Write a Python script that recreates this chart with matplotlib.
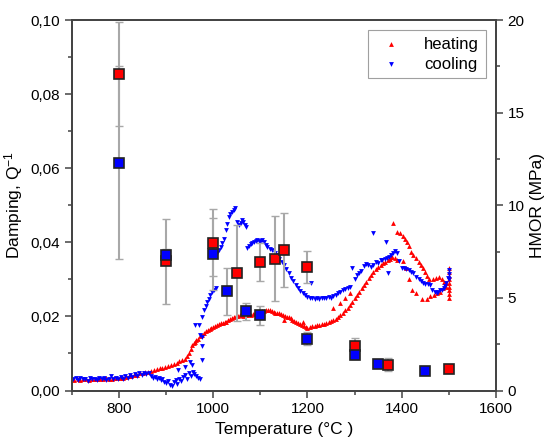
import matplotlib
matplotlib.use('Agg')
import matplotlib.pyplot as plt
from matplotlib.ticker import MultipleLocator, FuncFormatter

plt.rcParams['font.family'] = ['Liberation Sans', 'DejaVu Sans']
plt.rcParams['mathtext.default'] = 'regular'

# damping on heating (temperature, Q^-1)
heat_T = [705, 712, 718, 724, 730, 736, 742, 748, 754, 760, 766, 772, 778, 784, 790, 796,
          802, 808, 814, 820, 826, 832, 838, 844, 850, 856, 862, 868, 874, 880, 886, 892, 898,
          904, 910, 916, 922, 928, 934, 940, 944, 948, 952, 955, 958, 961, 964, 968, 972, 976,
          980, 984, 988, 992, 996,
          1000, 1004, 1008, 1012, 1016, 1020, 1024, 1028, 1032, 1036, 1040, 1044, 1048, 1052,
          1056, 1060, 1064, 1068, 1072, 1076, 1080, 1084, 1088, 1092, 1096, 1100, 1104, 1108,
          1112, 1116, 1120, 1124, 1128, 1132, 1136, 1140, 1144, 1148, 1152, 1156, 1160, 1164,
          1168, 1172, 1176, 1180, 1184, 1188, 1192, 1196, 1200, 1150, 1190,
          1205, 1210, 1215, 1220, 1225, 1230, 1235, 1240, 1245, 1250, 1255, 1260, 1265, 1270,
          1275, 1280, 1285, 1290, 1295, 1300, 1305, 1310, 1315, 1320, 1325, 1330, 1335, 1340,
          1345, 1350, 1355, 1360, 1365, 1370, 1375, 1380, 1385,
          1255, 1268, 1280, 1290,
          1382, 1390, 1396, 1402, 1406, 1411, 1415, 1419, 1425, 1431, 1436, 1440, 1445, 1449,
          1454, 1458, 1466, 1472, 1479, 1485, 1490, 1495,
          1377, 1390, 1402, 1410, 1415, 1421, 1430, 1444, 1453, 1460, 1468, 1474, 1481, 1488, 1494,
          1500, 1500, 1500, 1500, 1500, 1500, 1500, 1500, 1500]
heat_Q = [.0028, .0030, .0029, .0031, .0030, .0028, .0031, .0030, .0032, .0030, .0031, .0033, .0031, .0032, .0034, .0033,
          .0035, .0034, .0037, .0038, .0040, .0041, .0043, .0046, .0048, .0050, .0051, .0054, .0056, .0058, .0060, .0062, .0064,
          .0066, .0069, .0072, .0075, .0079, .0082, .0086, .0092, .0100, .0112, .0122, .0128, .0131, .0135, .0140, .0146, .0151,
          .0155, .0160, .0164, .0167, .0170,
          .0172, .0175, .0176, .0179, .0181, .0183, .0184, .0186, .0189, .0192, .0195, .0198, .0200, .0202,
          .0203, .0204, .0202, .0205, .0203, .0206, .0204, .0207, .0209, .0211, .0210, .0213, .0215, .0214,
          .0217, .0216, .0218, .0214, .0212, .0210, .0209, .0208, .0206, .0203, .0201, .0199, .0198, .0195,
          .0190, .0187, .0185, .0182, .0179, .0176, .0174, .0172, .0170, .0190, .0185,
          .0172, .0174, .0175, .0176, .0177, .0179, .0180, .0182, .0184, .0187, .0190, .0194, .0198, .0203,
          .0209, .0216, .0223, .0231, .0240, .0249, .0258, .0267, .0276, .0285, .0294, .0303, .0312, .0320,
          .0327, .0333, .0338, .0343, .0348, .0352, .0356, .0360, .0358,
          .0222, .0236, .0250, .0262,
          .0451, .0429, .0424, .0417, .0410, .0402, .0390, .0375, .0365, .0357, .0348, .0339, .0330, .0321,
          .0310, .0300, .0300, .0303, .0307, .0300, .0294, .0290,
          .0360, .0352, .0350, .0330, .0300, .0271, .0262, .0246, .0246, .0255, .0258, .0262, .0266, .0277, .0280,
          .0330, .0320, .0310, .0300, .0290, .0280, .0270, .0260, .0250]

# damping on cooling (temperature, Q^-1)
cool_T = [703, 708, 713, 718, 723, 728, 733, 738, 743, 748, 753, 758, 763, 768, 773, 778, 783, 788,
          793, 798, 803, 808, 813, 818, 823, 828, 833, 838, 843, 848, 853, 858, 863,
          868, 872, 876, 880, 884, 888, 892, 896, 900, 904, 908, 912, 916, 920, 924, 928, 932,
          936, 940, 944, 948, 952, 956, 960, 964, 968, 972,
          926, 940, 951, 955, 975, 976,
          962, 969, 972, 975, 976, 980, 984, 987, 990, 994, 998, 1002, 1005,
          1008, 1012, 1016, 1019, 1022, 1026, 1029, 1033, 1036, 1040, 1044, 1047, 1050, 1054,
          1058, 1061, 1064, 1067, 1070,
          1072, 1076, 1080, 1083, 1087, 1090, 1093, 1097, 1100, 1104, 1108, 1112, 1115, 1120,
          1125, 1130, 1135, 1140, 1145, 1150, 1155, 1160, 1165, 1170, 1175, 1180, 1185, 1190,
          1195, 1200, 1205, 1210, 1215, 1220, 1225, 1230, 1235, 1240, 1245, 1250, 1255, 1260,
          1265, 1270, 1275, 1280, 1285, 1290, 1207,
          1295, 1300, 1305, 1309, 1314, 1319, 1324, 1329, 1334, 1339, 1345, 1350, 1355, 1359,
          1364, 1368, 1373, 1378, 1382, 1386, 1390, 1339, 1367, 1371,
          1395, 1400, 1405, 1410, 1415, 1420, 1425, 1431, 1436, 1441, 1446, 1450, 1455, 1460,
          1465, 1470, 1474, 1478, 1482, 1485, 1489, 1492, 1495, 1498, 1500, 1500, 1500]
cool_Q = [.0030, .0033, .0028, .0035, .0030, .0032, .0027, .0034, .0030, .0031, .0028, .0033, .0030, .0035, .0029, .0032, .0040, .0030,
          .0034, .0031, .0036, .0030, .0038, .0034, .0041, .0036, .0044, .0039, .0046, .0042, .0048, .0044, .0047,
          .0040, .0034, .0036, .0031, .0034, .0028, .0030, .0024, .0020, .0026, .0015, .0012, .0022, .0028, .0018, .0030, .0025,
          .0036, .0042, .0032, .0046, .0040, .0051, .0045, .0038, .0034, .0030,
          .0055, .0064, .0078, .0069, .0082, .0145,
          .0177, .0177, .0150, .0120, .0199, .0217, .0228, .0240, .0248, .0258, .0266, .0272, .0276,
          .0370, .0378, .0388, .0397, .0410, .0433, .0450, .0469, .0476, .0483, .0488, .0492, .0455, .0447,
          .0452, .0460, .0456, .0448, .0442,
          .0384, .0390, .0395, .0397, .0401, .0404, .0406, .0404, .0402, .0406, .0400, .0393, .0388, .0383,
          .0378, .0372, .0365, .0356, .0347, .0338, .0328, .0318, .0305, .0295, .0285, .0276, .0268, .0262,
          .0257, .0252, .0250, .0249, .0248, .0249, .0248, .0250, .0249, .0251, .0253, .0250, .0256, .0258,
          .0262, .0266, .0270, .0273, .0276, .0280, .0290,
          .0330, .0300, .0312, .0318, .0322, .0335, .0342, .0338, .0334, .0340, .0348, .0345, .0352, .0352,
          .0356, .0358, .0361, .0366, .0372, .0376, .0370, .0424, .0402, .0316,
          .0350, .0332, .0330, .0328, .0325, .0320, .0318, .0307, .0300, .0296, .0290, .0288, .0287, .0285,
          .0270, .0265, .0262, .0266, .0270, .0271, .0276, .0283, .0290, .0305, .0325, .0315, .0300]

# HMOR (MPa) with error bars
hmor_red_T = [800, 900, 1000, 1050, 1100, 1130, 1150, 1200, 1300, 1370, 1500]
hmor_red = [17.1, 6.97, 7.98, 6.36, 6.94, 7.12, 7.57, 6.67, 2.38, 1.40, 1.14]
hmor_red_err = [2.8, 2.3, 1.8, 2.6, 1.05, 2.3, 2.0, 0.85, 0.45, 0.33, 0.1]
hmor_blue_T = [800, 900, 1000, 1030, 1070, 1100, 1200, 1300, 1350, 1450]
hmor_blue = [12.3, 7.33, 7.37, 5.35, 4.27, 4.05, 2.79, 1.89, 1.44, 1.05]
hmor_blue_err = [5.2, 0.3, 1.96, 1.25, 0.45, 0.5, 0.35, 0.2, 0.1, 0.1]

fig = plt.figure(figsize=(5.47, 4.41), dpi=100)
ax = fig.add_axes([0.1316, 0.1145, 0.775, 0.84])

h1 = ax.scatter(heat_T, heat_Q, marker='^', s=12, color='#ff0000', linewidths=0, label='heating')
h2 = ax.scatter(cool_T, cool_Q, marker='v', s=12, color='#0000ff', linewidths=0, label='cooling')

ax.set_xlim(700, 1600)
ax.set_ylim(0, 0.10)
ax.xaxis.set_major_locator(MultipleLocator(200))
ax.xaxis.set_minor_locator(MultipleLocator(100))
ax.yaxis.set_major_locator(MultipleLocator(0.02))
ax.yaxis.set_minor_locator(MultipleLocator(0.01))
ax.yaxis.set_major_formatter(FuncFormatter(lambda v, p: ('%.2f' % v).replace('.', ',')))
ax.set_xlabel('Temperature (°C )', fontsize=12.5)
ax.set_ylabel('Damping, Q$^{-1}$', fontsize=12.5)

ax2 = ax.twinx()
ax2.errorbar(hmor_red_T, hmor_red, yerr=hmor_red_err, fmt='none', ecolor='#a8a8a8',
             elinewidth=1.5, capsize=3, capthick=1, zorder=1)
ax2.errorbar(hmor_blue_T, hmor_blue, yerr=hmor_blue_err, fmt='none', ecolor='#a8a8a8',
             elinewidth=1.5, capsize=3, capthick=1, zorder=1)
ax2.plot(hmor_red_T, hmor_red, 's', ms=7, color='#ff0000', mec='#222222', mew=1.2, zorder=3)
ax2.plot(hmor_blue_T, hmor_blue, 's', ms=7, color='#0000ff', mec='#222222', mew=1.2, zorder=3)
ax2.set_ylim(0, 20)
ax2.yaxis.set_major_locator(MultipleLocator(5))
ax2.yaxis.set_minor_locator(MultipleLocator(2.5))
ax2.set_ylabel('HMOR (MPa)', fontsize=12.5)

for a in (ax, ax2):
    for s in a.spines.values():
        s.set_color('#444444')
        s.set_linewidth(1.3)
    a.tick_params(which='both', direction='out', colors='#444444', labelcolor='black', labelsize=11, width=1.1)
    a.tick_params(which='major', length=5)
    a.tick_params(which='minor', length=3)

leg = ax2.legend([h1, h2], ['heating', 'cooling'], loc='upper right', fontsize=12,
                 fancybox=False, edgecolor='#888888', markerscale=1.0,
                 handletextpad=1.0, borderaxespad=0.6, labelspacing=0.3)
leg.get_frame().set_linewidth(0.8)

fig.savefig('out.png', dpi=100)
